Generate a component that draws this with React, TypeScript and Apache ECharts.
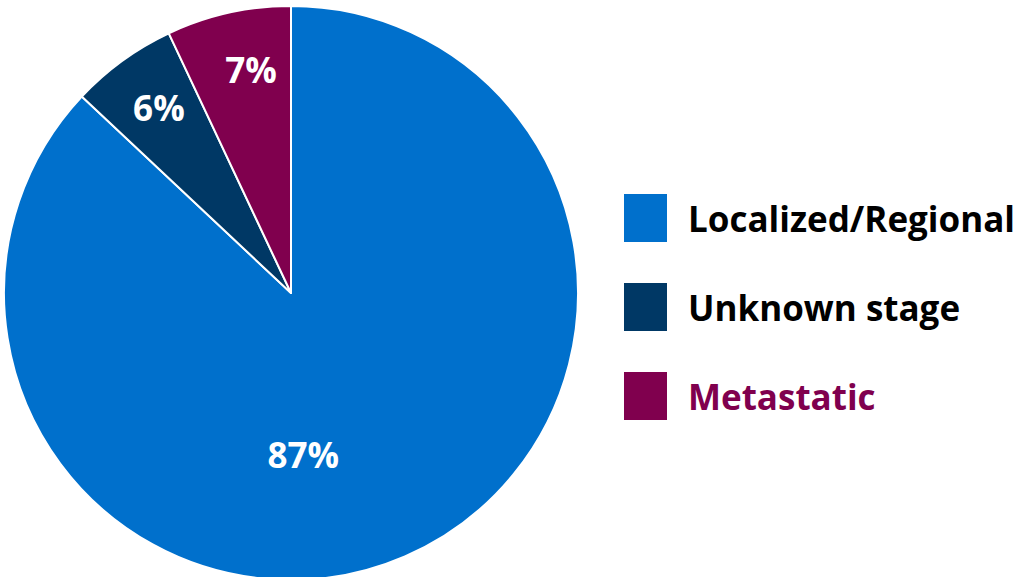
import React, { useEffect, useRef } from "react";
import * as echarts from "echarts";

const categories = ["Localized/Regional", "Unknown stage", "Metastatic"];
const values = [87, 6, 7];
const colors = ["#0070CC", "#003865", "#80004E"];
const legendTextColors = ["#000000", "#000000", "#80004E"];
const labelOffsets = [
  [-46, 27],
  [-46, -67],
  [-8, -81],
];

export default function App() {
  const ref = useRef<HTMLDivElement>(null);
  useEffect(() => {
    if (!ref.current) return;
    const chart = echarts.init(ref.current, null, { renderer: "svg" });
    chart.setOption({
      animation: false,
      backgroundColor: "#ffffff",
      legend: {
        orient: "vertical",
        left: 622,
        top: 192,
        padding: 0,
        itemWidth: 45,
        itemHeight: 50,
        itemGap: 37,
        icon: "rect",
        selectedMode: false,
        textStyle: {
          fontFamily: "Open Sans",
          fontWeight: "bold",
          fontSize: 35,
          color: "#000",
          padding: [0, 0, 0, 15],
        },
        data: categories.map((c, i) => ({
          name: c,
          textStyle: { color: legendTextColors[i] },
        })),
      },
      series: [
        {
          type: "pie",
          center: [291, 293],
          radius: [0, 287],
          startAngle: 90,
          clockwise: true,
          itemStyle: { borderColor: "#ffffff", borderWidth: 2 },
          label: {
            show: true,
            position: "inside",
            formatter: (p: any) => `${p.value}%`,
            color: "#ffffff",
            fontFamily: "Open Sans",
            fontWeight: "bold",
            fontSize: 35,
          },
          labelLine: { show: false },
          emphasis: { disabled: true },
          data: categories.map((c, i) => ({
            name: c,
            value: values[i],
            itemStyle: { color: colors[i] },
            label: { offset: labelOffsets[i] },
          })),
        },
      ],
    });
    return () => chart.dispose();
  }, []);
  return (
    <div
      ref={ref}
      style={{ position: "absolute", left: 0, top: 0, width: 1030, height: 577 }}
    />
  );
}
